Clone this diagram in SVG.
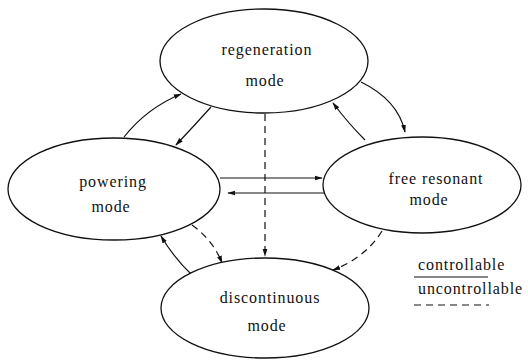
<svg xmlns="http://www.w3.org/2000/svg" width="528" height="360" viewBox="0 0 528 360">
<defs>
<marker id="ah" viewBox="0 0 10 10" refX="9" refY="5" markerWidth="8" markerHeight="8" orient="auto" markerUnits="userSpaceOnUse">
<path d="M0,2 L10,5 L0,8 Z" fill="#111"/>
</marker>
<style>
.node{fill:#fff;stroke:#111;stroke-width:1.3}
.t{font-family:"Liberation Serif","Times New Roman",serif;font-size:16px;letter-spacing:0.9px;fill:#111;text-anchor:middle}
.lg{font-family:"Liberation Serif","Times New Roman",serif;font-size:16px;letter-spacing:0.9px;fill:#111}
.c{fill:none;stroke:#111;stroke-width:1.2;marker-end:url(#ah)}
.u{fill:none;stroke:#111;stroke-width:1.2;stroke-dasharray:7,5;marker-end:url(#ah)}
</style>
</defs>
<rect width="528" height="360" fill="#fff"/>
<g id="connectors">
<path class="c" d="M124,137 Q147,108 181,94"/>
<path class="c" d="M211,107 Q193,127 176,145"/>
<path class="c" d="M361,82 Q398,100 405,132"/>
<path class="c" d="M365,140 Q348,123 333,103"/>
<path class="u" d="M265,114 L265,256"/>
<path class="c" d="M220,178 L322,178"/>
<path class="c" d="M325,193 L228,193"/>
<path class="u" d="M192,225 Q213,240 222,263"/>
<path class="c" d="M192,275 Q174,258 161,236"/>
<path class="u" d="M382,231 Q365,258 333,270"/>
</g>
<g id="regeneration">
<ellipse class="node" cx="264" cy="61" rx="104" ry="52"/>
<text class="t" x="267" y="55">regeneration</text>
<text class="t" x="265" y="86">mode</text>
</g>
<g id="powering">
<ellipse class="node" cx="114" cy="189" rx="106" ry="51"/>
<text class="t" x="113" y="187">powering</text>
<text class="t" x="111" y="212">mode</text>
</g>
<g id="free-resonant">
<ellipse class="node" cx="422" cy="185" rx="99" ry="48"/>
<text class="t" x="436" y="184">free resonant</text>
<text class="t" x="429" y="205">mode</text>
</g>
<g id="discontinuous">
<ellipse class="node" cx="265" cy="308" rx="104" ry="50"/>
<text class="t" x="270" y="303">discontinuous</text>
<text class="t" x="267" y="331">mode</text>
</g>
<g id="legend">
<text class="lg" x="418" y="270">controllable</text>
<line x1="414" y1="277" x2="488" y2="277" stroke="#111" stroke-width="1.2"/>
<text class="lg" x="418" y="294">uncontrollable</text>
<line x1="414" y1="305" x2="489" y2="305" stroke="#111" stroke-width="1.2" stroke-dasharray="7,5"/>
</g>
</svg>
